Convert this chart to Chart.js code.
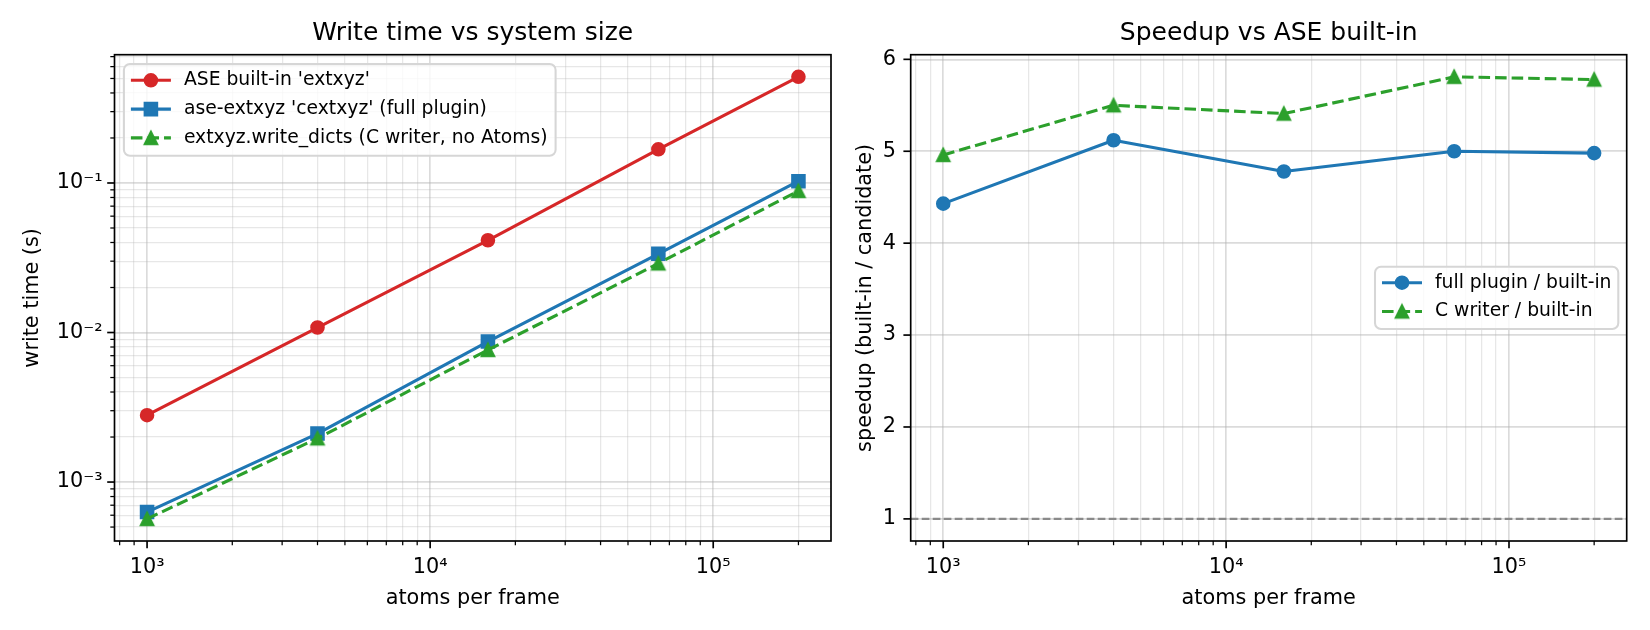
<!DOCTYPE html>
<html>
<head>
<meta charset="utf-8">
<title>Write time vs system size</title>
<script src="https://cdn.jsdelivr.net/npm/chart.js@4/dist/chart.umd.min.js"></script>
<style>
body{margin:0;background:#fff;}
#wrap{position:relative;width:1650px;height:630px;}
canvas{position:absolute;top:0;}
#left{left:0;}
#right{left:850px;}
</style>
</head>
<body>
<div id="wrap">
<canvas id="left" width="850" height="630"></canvas>
<canvas id="right" width="800" height="630"></canvas>
</div>
<script>
// ---- data ----
const atoms = [1000, 4000, 16000, 64000, 200000];
const tBuiltin = [0.0028, 0.0108, 0.0414, 0.168, 0.513];
const tPlugin = [0.00063, 0.00211, 0.0087, 0.0336, 0.1028];
const tCWriter = [0.000567, 0.00196, 0.00765, 0.029, 0.0885];
const spPlugin = [4.43, 5.12, 4.78, 5.00, 4.98];
const spCWriter = [4.96, 5.50, 5.41, 5.81, 5.78];
const baseline = 1;

const RED = '#d62728', BLUE = '#1f77b4', GREEN = '#2ca02c';
const FONT = 'DejaVu Sans';
Chart.defaults.font.family = FONT;
Chart.defaults.color = '#000';

const SUP = {'-':'\u207B','0':'\u2070','1':'\u00B9','2':'\u00B2','3':'\u00B3','4':'\u2074','5':'\u2075','6':'\u2076','7':'\u2077','8':'\u2078','9':'\u2079'};
const isDecade = v => Math.abs(Math.log10(v) - Math.round(Math.log10(v))) < 1e-9;
const decadeLabel = v => '10' + String(Math.round(Math.log10(v))).split('').map(c => SUP[c]).join('');

function logTicks(min, max){
  const out = [];
  for(let k = Math.floor(Math.log10(min)); k <= Math.ceil(Math.log10(max)); k++){
    for(let d = 1; d <= 9; d++){
      const v = d * Math.pow(10, k);
      if(v >= min && v <= max) out.push({value: v});
    }
  }
  return out;
}
function logPad(vals){
  const lo = Math.log10(Math.min(...vals)), hi = Math.log10(Math.max(...vals)), m = (hi - lo) * 0.05;
  return [Math.pow(10, lo - m), Math.pow(10, hi + m)];
}
function linPad(vals){
  const lo = Math.min(...vals), hi = Math.max(...vals), m = (hi - lo) * 0.05;
  return [lo - m, hi + m];
}
const pts = ys => atoms.map((x, i) => ({x, y: ys[i]}));

function triangle(color){
  const c = document.createElement('canvas');
  c.width = 22; c.height = 22;
  const g = c.getContext('2d');
  g.fillStyle = color; g.strokeStyle = color; g.lineWidth = 2.08; g.lineJoin = 'miter';
  g.beginPath(); g.moveTo(11, 4.75); g.lineTo(4.75, 17.25); g.lineTo(17.25, 17.25); g.closePath();
  g.fill(); g.stroke();
  return c;
}
const TRI = triangle(GREEN);

const [xMin, xMax] = logPad(atoms);
const [yMinL, yMaxL] = logPad([...tBuiltin, ...tPlugin, ...tCWriter]);
const [yMinR, yMaxR] = linPad([...spPlugin, ...spCWriter, baseline]);

const gridMajor = 'rgba(176,176,176,0.45)', gridMinor = 'rgba(176,176,176,0.3)';
const logGrid = {
  drawTicks: false,
  color: c => c.tick && isDecade(c.tick.value) ? gridMajor : gridMinor,
  lineWidth: c => c.tick && isDecade(c.tick.value) ? 1.67 : 1.25
};
const tickFont = {family: FONT, size: 20.8};
const labelFont = {family: FONT, size: 20.8, lineHeight: 1.2};

/* ---------- ticks, spines and matplotlib-ish legend ---------- */
const axesDeco = {
  id: 'axesDeco',
  afterDraw(chart, args, o){
    const {ctx, chartArea: a} = chart;
    ctx.save();
    ctx.strokeStyle = '#000';
    ctx.setLineDash([]);
    const mark = (scale, horiz) => {
      scale.ticks.forEach(t => {
        const major = scale.type !== 'logarithmic' || isDecade(t.value);
        const p = scale.getPixelForValue(t.value);
        const len = major ? 7.3 : 4.2;
        ctx.lineWidth = major ? 1.67 : 1.25;
        ctx.beginPath();
        if(horiz){ ctx.moveTo(p, a.bottom); ctx.lineTo(p, a.bottom + len); }
        else { ctx.moveTo(a.left, p); ctx.lineTo(a.left - len, p); }
        ctx.stroke();
      });
    };
    mark(chart.scales.x, true);
    mark(chart.scales.y, false);
    ctx.lineWidth = 1.67;
    ctx.strokeRect(a.left, a.top, a.right - a.left, a.bottom - a.top);

    // legend
    const L = o.legend;
    const bx = L.anchor === 'right' ? a.right - L.pad - L.w : a.left + L.pad;
    const by = L.anchor === 'right' ? (a.top + a.bottom) / 2 - L.h / 2 : a.top + L.pad;
    ctx.beginPath();
    if(ctx.roundRect) ctx.roundRect(bx, by, L.w, L.h, 6); else ctx.rect(bx, by, L.w, L.h);
    ctx.fillStyle = 'rgba(255,255,255,0.8)';
    ctx.fill();
    ctx.strokeStyle = '#d6d6d6';
    ctx.lineWidth = 2.08;
    ctx.stroke();
    L.items.forEach((di, i) => {
      const ds = chart.data.datasets[di];
      const ry = by + L.first + i * L.pitch;
      ctx.strokeStyle = ds.borderColor;
      ctx.fillStyle = ds.borderColor;
      ctx.lineWidth = ds.borderWidth;
      ctx.setLineDash(ds.borderDash || []);
      ctx.beginPath(); ctx.moveTo(bx + 7, ry); ctx.lineTo(bx + 47, ry); ctx.stroke();
      ctx.setLineDash([]);
      ctx.lineWidth = ds.pointBorderWidth;
      if(Chart.helpers && Chart.helpers.drawPoint){
        Chart.helpers.drawPoint(ctx, {pointStyle: ds.pointStyle, radius: ds.pointRadius, borderWidth: ds.pointBorderWidth, rotation: 0}, bx + 27, ry);
      }
      ctx.fillStyle = '#000';
      ctx.font = '18.75px "' + FONT + '"';
      ctx.textBaseline = 'middle';
      ctx.textAlign = 'left';
      ctx.fillText(ds.label, bx + 60, ry);
    });
    ctx.restore();
  }
};

function lineDs(label, data, color, style, radius, extra){
  return Object.assign({
    label, data, borderColor: color, backgroundColor: color,
    pointBackgroundColor: color, pointBorderColor: color,
    borderWidth: 3.1, pointBorderWidth: 2.08, pointStyle: style, pointRadius: radius,
    pointHoverRadius: radius, borderJoinStyle: 'round', tension: 0
  }, extra || {});
}

/* ---------- left: write time ---------- */
new Chart(document.getElementById('left'), {
  type: 'line',
  data: {
    datasets: [
      lineDs("ASE built-in 'extxyz'", pts(tBuiltin), RED, 'circle', 6.25, {order: 2}),
      lineDs("ase-extxyz 'cextxyz' (full plugin)", pts(tPlugin), BLUE, 'rect', 8.84, {order: 1}),
      lineDs('extxyz.write_dicts (C writer, no Atoms)', pts(tCWriter), GREEN, TRI, 7, {order: 0, borderDash: [11.56, 5]})
    ]
  },
  options: {
    responsive: false, animation: false, events: [],
    layout: {padding: {left: 0, right: 19, top: 0, bottom: 0}},
    plugins: {
      legend: {display: false}, tooltip: {enabled: false},
      title: {display: true, fullSize: false, text: 'Write time vs system size', color: '#000',
        font: {family: FONT, size: 25, weight: 'normal', lineHeight: 1.2}, padding: {top: 18.5, bottom: 6.2}},
      axesDeco: {legend: {anchor: 'left', pad: 9.4, w: 431.7, h: 91.7, first: 16.2, pitch: 28.8, items: [0, 1, 2]}}
    },
    scales: {
      x: {
        type: 'logarithmic', min: xMin, max: xMax, bounds: 'data',
        afterBuildTicks: s => { s.ticks = logTicks(xMin, xMax); },
        afterFit: s => { s.height = 89; },
        grid: logGrid, border: {display: false},
        ticks: {autoSkip: false, maxRotation: 0, padding: 14.5, color: '#000', font: tickFont,
          callback: v => isDecade(v) ? decadeLabel(v) : ''},
        title: {display: true, text: 'atoms per frame', color: '#000', font: labelFont, padding: {top: 0, bottom: 18.7}}
      },
      y: {
        type: 'logarithmic', min: yMinL, max: yMaxL, bounds: 'data',
        afterBuildTicks: s => { s.ticks = logTicks(yMinL, yMaxL); },
        afterFit: s => { s.width = 114.5; },
        grid: logGrid, border: {display: false},
        ticks: {autoSkip: false, padding: 12, color: '#000', font: tickFont,
          callback: v => isDecade(v) ? decadeLabel(v) : ''},
        title: {display: true, text: 'write time (s)', color: '#000', font: labelFont, padding: {top: 20.5, bottom: 0}}
      }
    }
  },
  plugins: [axesDeco]
});

/* ---------- right: speedup ---------- */
new Chart(document.getElementById('right'), {
  type: 'line',
  data: {
    datasets: [
      lineDs('full plugin / built-in', pts(spPlugin), BLUE, 'circle', 6.25, {order: 1}),
      lineDs('C writer / built-in', pts(spCWriter), GREEN, TRI, 7, {order: 0, borderDash: [11.56, 5]}),
      {label: '', data: [{x: xMin, y: baseline}, {x: xMax, y: baseline}], borderColor: '#8a8a8a',
        borderWidth: 2.08, borderDash: [7.7, 3.3], pointRadius: 0, order: 2}
    ]
  },
  options: {
    responsive: false, animation: false, events: [],
    layout: {padding: {left: 0, right: 23.3, top: 0, bottom: 0}},
    plugins: {
      legend: {display: false}, tooltip: {enabled: false},
      title: {display: true, fullSize: false, text: 'Speedup vs ASE built-in', color: '#000',
        font: {family: FONT, size: 25, weight: 'normal', lineHeight: 1.2}, padding: {top: 18.5, bottom: 6.2}},
      axesDeco: {legend: {anchor: 'right', pad: 8.4, w: 243.3, h: 62.3, first: 16, pitch: 28.8, items: [0, 1]}}
    },
    scales: {
      x: {
        type: 'logarithmic', min: xMin, max: xMax, bounds: 'data',
        afterBuildTicks: s => { s.ticks = logTicks(xMin, xMax); },
        afterFit: s => { s.height = 89; },
        grid: logGrid, border: {display: false},
        ticks: {autoSkip: false, maxRotation: 0, padding: 14.5, color: '#000', font: tickFont,
          callback: v => isDecade(v) ? decadeLabel(v) : ''},
        title: {display: true, text: 'atoms per frame', color: '#000', font: labelFont, padding: {top: 0, bottom: 18.7}}
      },
      y: {
        type: 'linear', min: yMinR, max: yMaxR, bounds: 'data',
        afterBuildTicks: s => { s.ticks = [1, 2, 3, 4, 5, 6].map(v => ({value: v})); },
        afterFit: s => { s.width = 60.7; },
        grid: {drawTicks: false, color: gridMajor, lineWidth: 1.67}, border: {display: false},
        ticks: {autoSkip: false, padding: 14.6, color: '#000', font: tickFont, callback: v => String(v)},
        title: {display: true, text: 'speedup (built-in / candidate)', color: '#000', font: labelFont, padding: {top: 3.5, bottom: 0}}
      }
    }
  },
  plugins: [axesDeco]
});
</script>
</body>
</html>
